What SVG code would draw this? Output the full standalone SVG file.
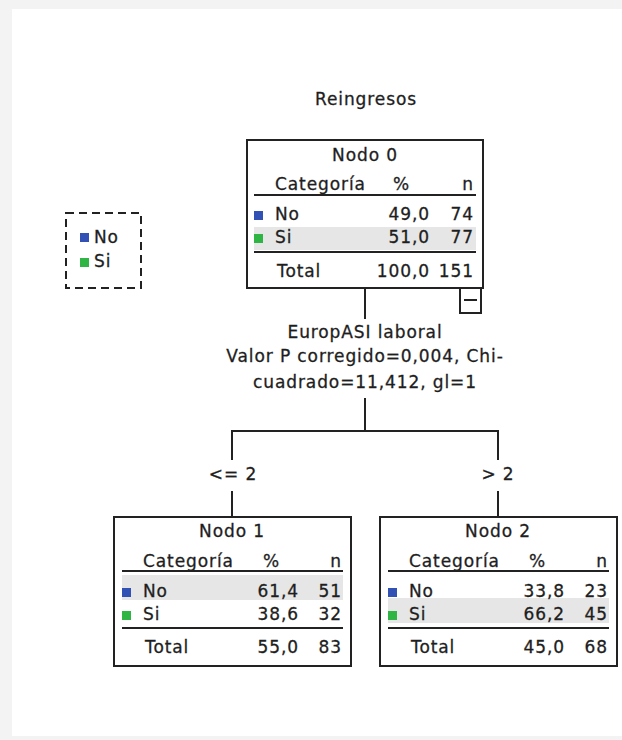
<svg xmlns="http://www.w3.org/2000/svg" width="622" height="740" viewBox="0 0 622 740">
<style>
text{font-family:"DejaVu Sans","Liberation Sans",sans-serif;font-size:17px;fill:#1e1e1e;stroke:#1e1e1e;stroke-width:0.3px;letter-spacing:0.9px}
.c{text-anchor:middle}
.e{text-anchor:end}
.box{fill:#fff;stroke:#222;stroke-width:2}
.rule{stroke:#222;stroke-width:2}
.hl{fill:#e6e6e6}
.no{fill:#3152b4}
.si{fill:#2fb544}
.con{fill:none;stroke:#222;stroke-width:2}
</style>
<rect width="622" height="740" fill="#f3f3f3"/>
<rect x="12" y="9" width="610" height="727" fill="#fff"/>
<text class="c" x="366" y="105">Reingresos</text>

<g id="legend">
<rect x="66" y="213" width="75" height="75" fill="none" stroke="#222" stroke-width="2" stroke-dasharray="8,5"/>
<rect class="no" x="80" y="233" width="9" height="9"/>
<text x="94" y="243">No</text>
<rect class="si" x="80" y="258" width="9" height="9"/>
<text x="94" y="267">Si</text>
</g>

<g id="connectors">
<line class="con" x1="365" y1="288" x2="365" y2="319"/>
<line class="con" x1="365" y1="398" x2="365" y2="431"/>
<polyline class="con" points="232,460 232,431 498,431 498,460"/>
<line class="con" x1="232" y1="491" x2="232" y2="517"/>
<line class="con" x1="498" y1="491" x2="498" y2="517"/>
<text class="c" x="365" y="338">EuropASI laboral</text>
<text class="c" x="365" y="362">Valor P corregido=0,004, Chi-</text>
<text class="c" x="365" y="388">cuadrado=11,412, gl=1</text>
<text class="c" x="233" y="480">&lt;= 2</text>
<text class="c" x="498" y="480">&gt; 2</text>
</g>

<g id="node0" transform="translate(247,140)">
<rect class="box" x="0" y="0" width="236" height="148"/>
<rect class="hl" x="7" y="87" width="222" height="23"/>
<text class="c" x="118" y="21">Nodo 0</text>
<text x="28" y="50">Categoría</text>
<text x="146" y="50">%</text>
<text class="e" x="227" y="50">n</text>
<line class="rule" x1="7" y1="55" x2="229" y2="55"/>
<rect class="no" x="7" y="71" width="9" height="9"/>
<text x="28" y="80">No</text>
<text class="e" x="183" y="80">49,0</text>
<text class="e" x="227" y="80">74</text>
<rect class="si" x="7" y="94" width="9" height="9"/>
<text x="28" y="103">Si</text>
<text class="e" x="183" y="103">51,0</text>
<text class="e" x="227" y="103">77</text>
<line class="rule" x1="7" y1="112" x2="229" y2="112"/>
<text x="30" y="137">Total</text>
<text class="e" x="183" y="137">100,0</text>
<text class="e" x="227" y="137">151</text>
<rect class="box" x="213" y="148" width="21" height="25"/>
<line class="rule" x1="217" y1="160" x2="230" y2="160"/>
</g>

<g id="node1" transform="translate(114,517)">
<rect class="box" x="0" y="0" width="237" height="149"/>
<rect class="hl" x="8" y="58" width="221" height="25"/>
<text class="c" x="118" y="20">Nodo 1</text>
<text x="29" y="50">Categoría</text>
<text x="149" y="50">%</text>
<text class="e" x="228" y="50">n</text>
<line class="rule" x1="8" y1="54" x2="229" y2="54"/>
<rect class="no" x="8" y="71" width="9" height="9"/>
<text x="29" y="80">No</text>
<text class="e" x="185" y="80">61,4</text>
<text class="e" x="228" y="80">51</text>
<rect class="si" x="8" y="94" width="9" height="9"/>
<text x="29" y="103">Si</text>
<text class="e" x="185" y="103">38,6</text>
<text class="e" x="228" y="103">32</text>
<line class="rule" x1="8" y1="111" x2="229" y2="111"/>
<text x="31" y="136">Total</text>
<text class="e" x="185" y="136">55,0</text>
<text class="e" x="228" y="136">83</text>
</g>

<g id="node2" transform="translate(380,517)">
<rect class="box" x="0" y="0" width="237" height="149"/>
<rect class="hl" x="8" y="81" width="221" height="25"/>
<text class="c" x="118" y="20">Nodo 2</text>
<text x="29" y="50">Categoría</text>
<text x="149" y="50">%</text>
<text class="e" x="228" y="50">n</text>
<line class="rule" x1="8" y1="54" x2="229" y2="54"/>
<rect class="no" x="8" y="71" width="9" height="9"/>
<text x="29" y="80">No</text>
<text class="e" x="185" y="80">33,8</text>
<text class="e" x="228" y="80">23</text>
<rect class="si" x="8" y="94" width="9" height="9"/>
<text x="29" y="103">Si</text>
<text class="e" x="185" y="103">66,2</text>
<text class="e" x="228" y="103">45</text>
<line class="rule" x1="8" y1="111" x2="229" y2="111"/>
<text x="31" y="136">Total</text>
<text class="e" x="185" y="136">45,0</text>
<text class="e" x="228" y="136">68</text>
</g>
</svg>
